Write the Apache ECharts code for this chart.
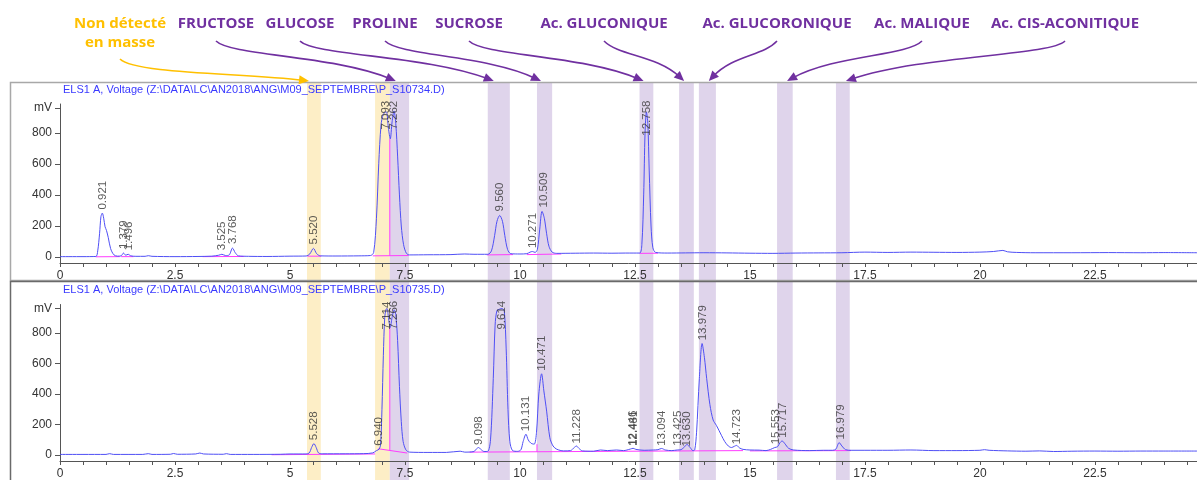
<!DOCTYPE html>
<html><head><meta charset="utf-8">
<script src="https://cdn.jsdelivr.net/npm/echarts@6/dist/echarts.min.js"></script>
<style>html,body{margin:0;padding:0;background:#fff}#c{width:1197px;height:480px}</style>
</head><body><div id="c"></div>
<script>
// ---------- DATA ----------
const xTickLabels = [0, 2.5, 5, 7.5, 10, 12.5, 15, 17.5, 20, 22.5];
const yTickLabels = [0, 200, 400, 600, 800];
const yUnitLabel = 'mV';
const topTitle = 'ELS1 A, Voltage (Z:\\DATA\\LC\\AN2018\\ANG\\M09_SEPTEMBRE\\P_S10734.D)';
const botTitle = 'ELS1 A, Voltage (Z:\\DATA\\LC\\AN2018\\ANG\\M09_SEPTEMBRE\\P_S10735.D)';

const compoundNames = ['FRUCTOSE','GLUCOSE','PROLINE','SUCROSE','Ac. GLUCONIQUE','Ac. GLUCORONIQUE','Ac. MALIQUE','Ac. CIS-ACONITIQUE'];
const notDetectedText = ['Non détecté', 'en masse'];

const bandsYellow = [[5.37,5.67],[6.85,7.17]];
const bandsPurple = [[7.17,7.59],[9.30,9.78],[10.37,10.70],[12.60,12.90],[13.46,13.78],[13.89,14.26],[15.59,15.93],[16.87,17.17]];

// trace S10734 (time min, mV)
const traceTop = [[0,3],[0.5,3],[0.78,4],[0.82,40],[0.86,150],[0.89,260],[0.92,283],[0.95,250],[0.98,195],[1.01,172],[1.05,125],[1.1,55],[1.17,15],[1.25,6],[1.33,8],[1.38,26],[1.43,12],[1.48,18],[1.54,8],[1.65,5],[1.85,5],[1.92,9],[2.0,5],[2.5,3],[3.0,4],[3.3,6],[3.45,12],[3.52,18],[3.6,10],[3.68,14],[3.75,58],[3.81,28],[3.88,8],[4.1,5],[4.5,4],[5.0,6],[5.35,7],[5.43,20],[5.51,56],[5.58,22],[5.66,8],[6.0,7],[6.5,8],[6.75,10],[6.82,30],[6.88,250],[6.93,600],[6.98,850],[7.03,920],[7.093,935],[7.14,830],[7.18,760],[7.22,870],[7.262,940],[7.3,860],[7.34,650],[7.38,400],[7.42,200],[7.47,80],[7.53,25],[7.6,14],[8.0,15],[8.5,16],[8.8,20],[9.0,18],[9.3,18],[9.38,40],[9.45,140],[9.5,230],[9.56,268],[9.62,230],[9.67,140],[9.73,50],[9.8,22],[10.0,20],[10.15,22],[10.22,32],[10.27,36],[10.33,30],[10.38,50],[10.43,180],[10.48,294],[10.53,250],[10.58,150],[10.63,70],[10.7,32],[10.8,24],[11.2,25],[11.6,26],[12.0,25],[12.3,26],[12.6,26],[12.65,80],[12.69,400],[12.72,800],[12.75,933],[12.78,860],[12.81,560],[12.85,200],[12.89,60],[12.95,30],[13.2,26],[13.6,27],[14.0,28],[14.5,27],[15.0,25],[15.5,24],[16.0,26],[16.5,27],[17.0,28],[17.5,32],[18.0,30],[18.5,32],[19.0,31],[19.5,30],[20.0,32],[20.3,36],[20.5,43],[20.6,34],[20.8,30],[21.2,28],[22.0,28],[22.8,29],[23.5,28],[24.0,29],[24.72,28]];
// integration baselines S10734 (null = gap)
const baseTop = [[0.78,2],[1.3,3],[1.3,null],[1.33,3],[1.6,3],[1.6,null],[3.1,3],[4.0,4],[4.0,null],[5.38,6],[5.68,6],[5.68,null],[6.8,8],[7.58,10],[7.58,null],[7.17,9],[7.17,760],[7.17,null],[9.28,14],[9.85,16],[9.85,null],[10.15,16],[10.9,20],[10.9,null],[12.6,24],[13.0,25]];
const peaksTop = [0.921,1.379,1.496,3.525,3.768,5.520,7.093,7.262,9.560,10.271,10.509,12.758];
const peakLabelLevelTop = [280,26,18,18,58,56,795,795,268,32,294,755];

// trace S10735
const traceBot = [[0,5],[0.5,5],[1.0,5],[1.08,10],[1.16,5],[1.8,5],[1.92,10],[2.0,5],[2.4,6],[2.47,11],[2.55,6],[2.95,8],[3.04,14],[3.12,8],[3.55,6],[3.62,10],[3.7,5],[4.2,5],[4.8,6],[5.0,8],[5.35,8],[5.42,15],[5.47,50],[5.52,76],[5.57,50],[5.62,15],[5.7,9],[6.2,9],[6.6,10],[6.8,15],[6.88,30],[6.94,40],[6.97,70],[7.0,300],[7.03,650],[7.06,900],[7.09,955],[7.114,958],[7.14,900],[7.18,835],[7.22,900],[7.266,950],[7.3,920],[7.34,750],[7.38,450],[7.42,220],[7.46,90],[7.52,35],[7.6,20],[8.0,18],[8.4,18],[8.7,26],[8.8,20],[9.0,24],[9.05,40],[9.1,50],[9.15,38],[9.22,24],[9.3,25],[9.36,100],[9.42,500],[9.46,850],[9.5,945],[9.56,955],[9.614,958],[9.66,940],[9.7,700],[9.74,300],[9.78,90],[9.84,30],[9.95,25],[10.02,35],[10.07,90],[10.131,137],[10.18,100],[10.24,78],[10.31,72],[10.36,150],[10.41,400],[10.471,532],[10.52,420],[10.58,288],[10.65,114],[10.72,60],[10.8,39],[10.95,28],[11.1,30],[11.18,50],[11.228,60],[11.28,45],[11.36,28],[11.6,26],[11.75,34],[11.9,30],[12.1,34],[12.25,30],[12.4,40],[12.46,45],[12.52,38],[12.7,32],[12.9,34],[13.0,36],[13.08,44],[13.16,34],[13.3,30],[13.42,34],[13.5,36],[13.58,55],[13.63,70],[13.7,50],[13.76,30],[13.8,35],[13.84,150],[13.9,500],[13.96,730],[14.01,640],[14.06,500],[14.13,330],[14.2,230],[14.27,195],[14.33,160],[14.38,130],[14.45,90],[14.53,60],[14.6,50],[14.66,58],[14.71,64],[14.77,48],[14.85,38],[15.0,34],[15.2,33],[15.35,30],[15.45,38],[15.54,50],[15.6,55],[15.65,80],[15.7,93],[15.76,75],[15.84,45],[15.95,34],[16.3,30],[16.6,32],[16.8,32],[16.87,40],[16.94,82],[17.0,60],[17.08,36],[17.2,32],[17.5,32],[18.0,32],[18.5,34],[19.0,30],[19.5,30],[20.0,32],[20.1,36],[20.2,32],[20.6,28],[21.0,26],[21.3,28],[21.6,24],[22.0,26],[22.5,27],[23.0,26],[23.5,27],[24.0,27],[24.72,27]];
const baseBot = [[4.6,3],[6.85,8],[6.85,null],[6.92,42],[7.55,14],[7.55,null],[7.17,30],[7.17,835],[7.17,null],[8.9,20],[14.85,30],[14.85,null],[10.37,22],[10.37,72],[10.37,null],[15.0,28],[17.2,30]];
const peaksBot = [5.528,6.940,7.114,7.266,9.098,9.614,10.131,10.471,11.228,12.446,12.481,13.094,13.425,13.630,13.979,14.723,15.553,15.717,16.979];
const peakLabelLevelBot = [72,35,795,795,40,795,131,525,50,35,35,35,35,30,725,45,45,88,77];

// ---------- CHART ----------
const X_MAX = 24.72, Y_MIN = -38, Y_MAX = 985;
const xMinor = []; for (let v = 0; v <= 24.5; v += 0.5) xMinor.push(+v.toFixed(1));
const yMinor = []; for (let v = 50; v <= 950; v += 50) if (v % 200) yMinor.push(v);
const axisCol = '#555';
const traceCol = '#4f4ff5';
const pinkCol = '#ff3cff';

function xAx(i, show) {
  return {gridIndex:i, type:'value', min:0, max:X_MAX, z:3, show:show,
    axisLine:{show:true, onZero:false, lineStyle:{color:axisCol,width:1}},
    axisTick:{show:true, customValues:xMinor, length:4, lineStyle:{color:axisCol}},
    axisLabel:{customValues:xTickLabels, margin:7, fontSize:12, color:'#333', fontFamily:'Liberation Sans, Arial'},
    splitLine:{show:false}};
}
function yAx(i) {
  const vals = yTickLabels.concat([960]);
  return {gridIndex:i, type:'value', min:Y_MIN, max:Y_MAX, z:3,
    axisLine:{show:true, lineStyle:{color:axisCol,width:1}},
    axisTick:{show:true, customValues:vals, length:5, lineStyle:{color:axisCol}},
    axisLabel:{customValues:vals, formatter:v => v === 960 ? yUnitLabel : String(v), margin:8, fontSize:12, color:'#333', fontFamily:'Liberation Sans, Arial'},
    splitLine:{show:false}};
}
function yMinorAx(i) {
  return {gridIndex:i, type:'value', min:Y_MIN, max:Y_MAX, z:3,
    axisLine:{show:false}, axisLabel:{show:false}, splitLine:{show:false},
    axisTick:{show:true, customValues:yMinor, length:3, lineStyle:{color:axisCol}}};
}
function labelSeries(times, levels, xi) {
  return {type:'scatter', xAxisIndex:xi, yAxisIndex:xi, z:5, symbolSize:0, silent:true,
    data: times.map((t, k) => [t, levels[k]]),
    label:{show:true, position:'top', rotate:90, align:'left', verticalAlign:'middle', distance:4,
      formatter:p => p.value[0].toFixed(3), fontSize:11.5, color:'#333', fontFamily:'Liberation Sans, Arial'}};
}
const markData = [];
bandsYellow.forEach(b => markData.push([{xAxis:b[0], itemStyle:{color:'#fdeec6'}}, {xAxis:b[1]}]));
bandsPurple.forEach(b => markData.push([{xAxis:b[0], itemStyle:{color:'#dfd4eb'}}, {xAxis:b[1]}]));

const option = {
  animation:false,
  backgroundColor:'#fff',
  title:[
    {text:topTitle, left:63, top:84, padding:0, textStyle:{fontSize:11, fontWeight:'normal', color:'#3a3aff', fontFamily:'Liberation Sans Narrow, Arial Narrow, Arial'}},
    {text:botTitle, left:63, top:284, padding:0, textStyle:{fontSize:11, fontWeight:'normal', color:'#3a3aff', fontFamily:'Liberation Sans Narrow, Arial Narrow, Arial'}}
  ],
  grid:[
    {left:60, right:0, top:104, height:159},
    {left:60, right:0, top:304.5, height:158.5},
    {left:60, right:0, top:83, bottom:0}
  ],
  xAxis:[xAx(0,true), xAx(1,true), {gridIndex:2, type:'value', min:0, max:X_MAX, show:false}],
  yAxis:[yAx(0), yAx(1), {gridIndex:2, type:'value', min:0, max:1, show:false}, yMinorAx(0), yMinorAx(1)],
  series:[
    {type:'line', xAxisIndex:2, yAxisIndex:2, z:1, data:[[0,0]], symbol:'none', lineStyle:{opacity:0}, silent:true,
      markArea:{silent:true, z:1, data:markData}},
    {type:'line', xAxisIndex:0, yAxisIndex:0, z:3, data:baseTop, symbol:'none', connectNulls:false, lineStyle:{color:pinkCol, width:1}},
    {type:'line', xAxisIndex:0, yAxisIndex:0, z:4, data:traceTop, symbol:'none', smooth:0.3, lineStyle:{color:traceCol, width:1}},
    {type:'line', xAxisIndex:1, yAxisIndex:1, z:3, data:baseBot, symbol:'none', connectNulls:false, lineStyle:{color:pinkCol, width:1}},
    {type:'line', xAxisIndex:1, yAxisIndex:1, z:4, data:traceBot, symbol:'none', smooth:0.3, lineStyle:{color:traceCol, width:1}},
    labelSeries(peaksTop, peakLabelLevelTop, 0),
    labelSeries(peaksBot, peakLabelLevelBot, 1)
  ]
};

const chart = echarts.init(document.getElementById('c'), null, {renderer:'canvas'});
chart.setOption(option);

// ---------- ANNOTATIONS (layout) ----------
const purple = '#7030a0', orange = '#ffc000';
const textFont = {fontSize:15, fontWeight:'bold', fontFamily:'Open Sans, Lato, sans-serif'};
const labelCx = [216, 300, 385, 469, 604, 777, 922, 1065];
const tipOffset = [6, 6, 4, 4, 5, 10, 10, 10];
const g = [];
function addArrow(sx, sy, tx, ty, color) {
  const dir = tx > sx ? 1 : -1;
  const dx = Math.abs(tx - sx);
  const c1 = [sx + dir * Math.min(15, dx * 0.2), sy + 15];
  const c2 = [tx - dir * dx * 0.35, sy + 14];
  let ddx = tx - c2[0], ddy = ty - c2[1];
  const len = Math.hypot(ddx, ddy); ddx /= len; ddy /= len;
  const L = 10, W = 4.5;
  const bx = tx - ddx * L, by = ty - ddy * L;
  g.push({type:'bezierCurve', z:100, silent:true,
    shape:{x1:sx, y1:sy, x2:tx - ddx * 6, y2:ty - ddy * 6, cpx1:c1[0], cpy1:c1[1], cpx2:c2[0], cpy2:c2[1]},
    style:{stroke:color, lineWidth:1.6, fill:null}});
  g.push({type:'polygon', z:100, silent:true,
    shape:{points:[[tx, ty], [bx - ddy * W, by + ddx * W], [bx + ddy * W, by - ddx * W]]},
    style:{fill:color}});
}
compoundNames.forEach((name, i) => {
  g.push({type:'text', z:100, x:labelCx[i], y:24, silent:true,
    style:Object.assign({text:name, fill:purple, align:'center', verticalAlign:'middle'}, textFont)});
  const tx = chart.convertToPixel({xAxisIndex:2}, bandsPurple[i][0]) + tipOffset[i];
  addArrow(labelCx[i], 41, tx, 81, purple);
});
notDetectedText.forEach((t, i) => {
  g.push({type:'text', z:100, x:120, y:24 + i * 19, silent:true,
    style:Object.assign({text:t, fill:orange, align:'center', verticalAlign:'middle'}, textFont)});
});
addArrow(120, 59, chart.convertToPixel({xAxisIndex:2}, bandsYellow[0][0]) + 2, 81, orange);
// panel frames
g.push({type:'rect', z:90, silent:true, shape:{x:10.5, y:82.5, width:1200, height:198}, style:{fill:null, stroke:'#a8a8a8', lineWidth:1.5}});
g.push({type:'rect', z:90, silent:true, shape:{x:10.5, y:281.5, width:1200, height:210}, style:{fill:null, stroke:'#6a6a6a', lineWidth:1.5}});
chart.setOption({graphic:g});
</script></body></html>
